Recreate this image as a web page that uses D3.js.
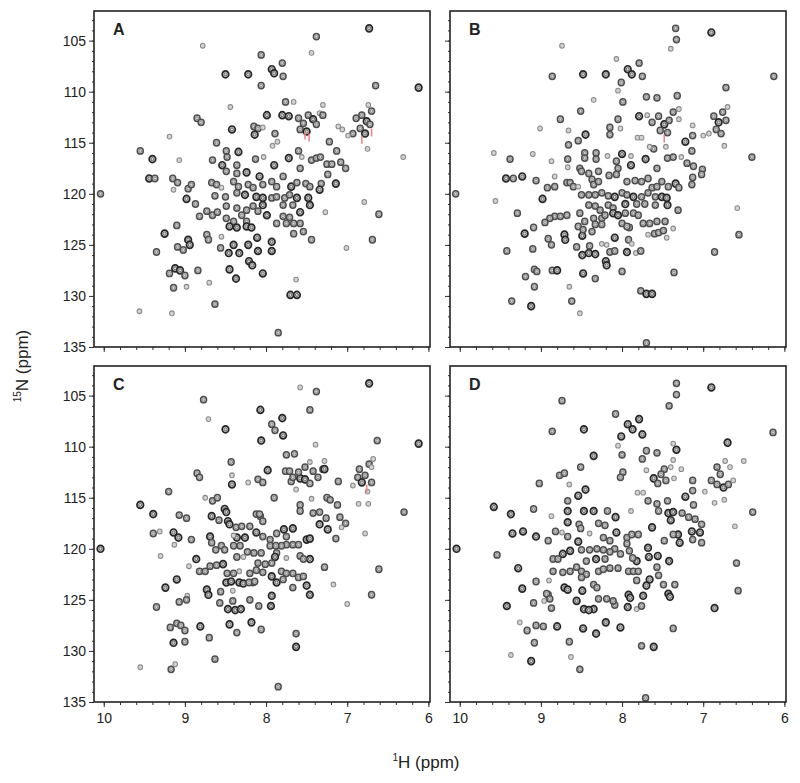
<!DOCTYPE html>
<html>
<head>
<meta charset="utf-8">
<script src="https://cdn.jsdelivr.net/npm/d3@7"></script>
<style>
  body { margin: 0; background: #fff; }
  text { font-family: "Liberation Sans", Arial, sans-serif; fill: #222; }
</style>
</head>
<body>
<svg id="chart" width="800" height="783"></svg>
<script>
// axis ranges (ppm) and tick labels
var hDomain = [10.12, 5.98];
var nDomain = [102.1, 135];
var hTicks = [10, 9, 8, 7, 6];
var nTicks = [105, 110, 115, 120, 125, 130, 135];
var panelNames = ['A', 'B', 'C', 'D'];

// peaks: [1H ppm, 15N ppm, intensity level 1..3]
var peaksA = [
  [6.73,103.8,3],[7.38,104.6,2],[8.78,105.5,1],[7.44,106.2,1],[8.06,106.4,2],[7.80,107.2,2],
  [7.93,107.8,3],[7.90,108.2,3],[7.79,108.5,2],[8.50,108.3,3],[8.22,108.3,3],[8.06,109.4,2],
  [6.65,109.4,2],[6.12,109.6,3],[7.76,111.0,2],[7.66,111.0,1],[8.44,111.5,1],[7.99,112.3,3],
  [7.80,112.3,3],[7.72,112.4,3],[8.85,112.6,2],[8.80,113.0,2],
  [7.60,112.6,2],[7.54,113.1,2],[7.48,112.3,2],[7.42,112.7,3],[7.38,113.2,2],[7.58,113.7,2],
  [7.50,113.9,3],[7.34,112.1,1],[7.30,111.3,1],[7.30,112.3,2],
  [6.89,112.6,2],[6.82,112.3,2],[6.76,112.9,3],[6.70,111.9,2],[6.84,113.6,2],[6.78,114.1,3],
  [6.72,113.2,2],[6.93,114.1,2],[6.74,111.3,1],[6.75,115.6,1],
  [8.42,113.7,3],[8.15,113.4,2],[8.10,113.6,2],[8.04,113.5,1],[8.14,114.2,3],[7.89,114.1,2],
  [7.86,114.9,1],[7.11,113.4,1],[7.06,113.7,1],[6.99,114.3,1],[9.19,114.4,1],[7.22,114.9,2],
  [8.61,115.0,2],[7.92,115.3,1],[9.55,115.8,2],[9.40,116.6,3],[9.07,116.7,1],[8.49,115.8,2],
  [8.34,115.9,3],[8.66,116.7,2],[8.48,116.4,2],[8.13,116.6,2],[8.03,116.4,1],[7.90,117.2,3],
  [7.72,116.5,3],[7.60,115.8,2],[7.56,116.4,1],[7.44,116.7,2],[7.38,116.5,2],[7.33,116.4,2],
  [7.25,117.1,2],[7.19,117.1,2],[7.13,115.8,2],[7.08,116.9,2],[7.02,117.5,2],[7.58,117.5,2],
  [6.31,116.4,1],[9.44,118.5,3],[9.37,118.5,2],[9.15,118.5,2],[9.09,118.9,2],[8.96,119.5,2],
  [8.92,119.1,2],[10.04,120.0,2],[8.98,120.5,3],[9.14,119.6,1],[8.87,121.0,2],[8.82,122.2,2],
  [8.73,121.7,2],[8.66,122.1,2],[8.60,121.8,2],
  [8.54,117.2,3],[8.36,117.2,2],[8.49,117.8,2],[8.36,118.0,2],[8.24,117.9,3],[8.08,118.3,3],
  [8.04,119.1,2],[7.93,118.8,2],[7.87,119.3,2],[7.79,118.3,2],[7.69,119.3,3],[7.62,118.9,2],
  [7.51,119.0,2],[7.46,119.3,2],[7.32,119.0,2],[7.24,118.1,2],[7.14,119.0,3],[7.34,119.6,3],
  [8.67,118.9,2],[8.61,119.1,2],[8.55,119.4,1],[8.40,118.8,2],[8.34,119.3,2],[8.22,119.1,2],
  [8.16,119.4,2],[8.26,120.1,3],[8.63,120.2,2],[8.50,120.3,2],[8.36,119.9,2],[8.12,120.3,3],
  [8.04,120.4,3],[7.93,120.4,2],[7.87,120.3,2],[7.77,120.4,2],[7.71,120.1,2],[7.62,120.4,3],
  [7.48,120.4,3],[7.79,121.1,2],[7.67,121.1,2],[7.46,121.1,3],[8.04,121.1,3],[7.99,122.1,3],
  [8.16,121.2,2],[8.10,121.7,2],[8.49,121.2,2],[8.36,121.4,2],[8.24,121.6,2],[8.30,122.1,2],
  [8.24,122.7,2],[8.49,122.4,2],[8.40,122.7,2],[8.45,123.2,3],[8.36,123.3,3],[8.24,123.2,3],
  [8.18,123.3,3],[7.87,122.9,2],[7.79,122.2,2],[7.71,122.3,2],[7.75,122.9,2],[7.66,122.9,2],
  [7.58,122.9,2],[7.58,121.8,3],[7.27,121.8,1],[7.66,123.9,2],[7.54,123.7,2],[7.44,124.5,2],
  [6.61,122.0,2],[6.79,120.8,1],[6.69,124.5,2],[7.01,125.3,1],
  [9.25,123.9,3],[9.10,123.1,2],[8.73,124.0,2],[8.71,124.5,2],[8.55,124.2,1],[8.96,124.5,3],
  [8.94,125.0,3],[9.09,125.2,2],[9.02,125.5,2],[9.35,125.7,2],[8.56,125.3,2],[8.40,125.0,3],
  [8.22,125.0,3],[8.11,124.3,3],[8.10,125.6,3],[7.93,124.7,3],[7.93,125.6,3],[8.46,125.8,3],
  [8.33,125.8,3],[8.21,126.6,3],[8.17,127.0,3],[8.04,127.8,3],[8.45,127.4,3],[8.37,128.3,3],
  [9.19,127.8,2],[9.12,127.3,3],[9.06,127.5,3],[9.00,128.0,2],[8.84,127.5,2],[9.14,129.2,2],
  [8.98,129.1,1],[8.70,128.7,1],[8.63,130.8,2],[7.70,129.9,3],[7.62,129.9,3],[7.63,128.4,1],
  [9.56,131.5,1],[9.16,131.7,1],[7.85,133.6,2]
];

var peaksB = [
  [7.34,103.8,2],[7.33,104.9,2],[6.90,104.2,3],[7.40,105.8,1],[8.74,105.5,1],[8.07,106.8,1],
  [7.79,107.2,2],[7.93,107.8,3],[7.88,108.3,3],[7.75,108.5,2],[8.86,108.5,2],[8.48,108.3,3],
  [8.20,108.3,3],[8.01,109.1,2],[6.13,108.5,2],[6.72,109.6,2],[8.05,109.9,1],[7.70,110.5,2],
  [7.57,110.6,2],[8.35,110.8,1],[7.99,111.0,2],[7.32,110.4,2],[8.51,111.9,2],[7.79,112.4,3],
  [7.69,112.3,1],[8.76,112.7,2],[9.01,113.6,1],[8.66,113.8,1],[8.45,114.2,3],[8.15,113.5,2],
  [8.15,114.2,2],[8.05,112.7,2],[8.02,113.6,1],
  [7.63,113.0,2],[7.55,112.4,2],[7.48,113.2,3],[7.42,112.8,2],[7.37,112.0,2],[7.53,113.8,2],
  [7.44,114.0,2],[7.30,112.7,1],[7.30,111.7,1],
  [6.87,112.4,2],[6.81,113.0,3],[6.76,112.0,2],[6.72,112.8,2],[6.84,113.7,2],[6.78,114.1,2],
  [6.70,111.5,1],[6.93,114.1,1],[6.74,115.3,1],
  [7.81,114.5,1],[7.76,114.5,1],[7.61,115.6,2],[7.66,115.4,1],[7.46,115.4,1],[7.22,114.9,3],
  [7.13,114.3,2],[7.13,113.3,1],[7.00,114.3,1],[7.14,115.8,2],[8.66,115.2,2],[8.54,114.8,2],
  [9.58,116.0,1],[9.38,116.6,2],[9.10,116.1,1],[8.87,116.8,1],[8.67,116.6,2],[8.67,117.4,1],
  [8.46,116.0,2],[8.46,116.5,2],[8.32,116.0,2],[8.32,116.6,2],[8.18,116.3,1],[8.07,116.8,2],
  [8.00,116.1,3],[7.89,116.3,1],[7.89,117.2,3],[7.71,116.6,3],[7.57,117.5,2],[7.44,116.5,2],
  [7.37,116.4,2],[7.27,116.4,1],[7.20,117.0,2],[7.12,117.3,2],[7.01,117.6,2],[7.02,118.1,2],
  [7.13,118.4,2],[7.14,119.1,2],[6.40,116.4,2],[9.43,118.5,3],[9.34,118.5,2],[9.23,118.3,3],
  [9.06,118.7,2],[8.83,118.3,1],[10.05,120.0,2],[9.56,120.7,1],[8.92,119.4,2],[8.83,119.3,2],
  [8.98,120.5,3],[9.29,121.9,2],[9.20,123.9,3],[9.09,123.3,2],[9.42,125.6,2],[9.10,125.4,2],
  [8.91,124.4,2],[8.87,125.0,2],[8.71,124.0,3],[8.70,124.5,3],[9.19,128.1,2],[9.08,127.4,2],
  [9.05,127.6,2],[9.08,129.1,2],[9.36,130.5,2],[9.12,131.0,3],[8.86,127.5,2],[8.80,127.5,3],
  [8.65,129.1,1],[8.62,130.5,2],[8.52,131.7,1],[8.49,126.0,3],[8.41,125.8,3],[8.33,125.9,3],
  [8.40,125.1,2],[8.56,125.2,2],[8.49,124.1,3],[8.48,127.8,3],[8.33,128.3,2],[8.20,126.6,3],
  [8.19,127.0,3],[8.25,124.9,1],[8.19,125.0,1],[8.15,125.7,2],[8.09,125.6,2],[8.09,124.3,3],
  [8.00,127.6,2],[7.94,125.7,3],[7.92,124.5,2],[7.88,124.9,1],[7.83,125.8,1],[7.77,125.6,2],
  [7.77,129.5,2],[7.70,129.8,3],[7.63,129.8,3],[7.70,134.6,2],[7.91,123.3,2],[7.68,124.0,1],
  [7.60,123.9,2],[7.55,123.8,2],[7.49,123.6,2],[7.37,123.4,1],[7.45,124.3,1],[7.36,127.7,2],
  [6.86,125.7,2],[6.58,121.4,1],[6.56,124.0,2],
  [8.52,117.5,2],[8.50,117.8,2],[8.41,118.0,2],[8.29,117.8,2],[8.16,118.2,2],[8.07,118.1,2],
  [8.05,117.5,2],[8.37,118.6,2],[8.35,119.1,2],[8.29,118.8,2],[7.94,118.8,2],[7.84,118.7,2],
  [7.76,118.8,2],[7.68,118.5,2],[7.63,119.4,2],[7.57,119.3,2],[7.51,118.8,2],[7.43,119.3,2],
  [7.34,119.0,3],[7.30,119.4,2],[8.68,118.9,2],[8.64,118.9,2],[8.60,119.3,2],[8.54,119.3,1],
  [8.50,120.1,2],[8.41,120.1,2],[8.33,120.1,2],[8.25,119.9,2],[8.17,120.2,2],[8.09,120.3,3],
  [8.00,119.9,2],[7.94,120.1,2],[7.86,120.3,3],[7.76,120.3,2],[7.68,119.9,2],[7.59,120.3,2],
  [7.51,120.3,3],[7.45,120.4,3],[7.96,121.0,3],[7.82,121.0,2],[7.72,121.0,2],[7.59,121.1,2],
  [7.44,121.1,3],[7.31,121.6,2],[8.17,121.1,2],[8.11,121.4,2],[8.41,121.1,2],[8.33,121.2,2],
  [8.27,121.6,2],[8.25,122.4,2],[8.25,123.0,2],[8.35,122.4,2],[8.33,123.0,2],[8.52,121.9,2],
  [8.46,122.7,2],[8.83,122.2,2],[8.76,122.2,2],[8.68,122.1,2],[8.95,122.8,2],[8.89,122.4,2],
  [8.21,122.1,2],[8.11,121.9,3],[8.05,122.1,3],[7.96,121.9,2],[7.86,121.9,2],[7.80,122.1,2],
  [7.74,122.9,2],[7.66,122.9,2],[7.57,122.7,2],[7.47,122.7,2],[8.00,122.9,2],[7.94,123.2,2],
  [8.54,123.2,2],[8.48,123.5,2],[8.37,123.7,2]
];

var peaksC = [
  [6.73,103.8,3],[7.38,104.6,2],[7.58,104.2,1],[8.77,105.4,2],[8.71,107.3,1],[8.07,106.4,3],
  [7.46,106.4,2],[7.80,107.2,3],[7.93,107.8,2],[7.89,108.4,2],[7.79,108.9,3],[8.50,108.3,3],
  [8.06,109.4,3],[6.63,109.4,2],[6.12,109.7,3],[7.39,109.8,1],[7.75,110.8,2],[7.65,110.7,2],
  [8.43,111.5,2],[8.85,112.6,2],[8.82,113.0,2],[8.42,112.8,1],[7.98,112.3,3],[7.76,112.4,2],
  [7.71,112.4,2],[8.42,113.7,3],[8.22,113.5,1],[8.10,113.2,2],[8.04,113.5,2],[9.20,114.4,2],
  [8.75,115.0,1],[8.66,115.3,2],[8.60,115.0,2],[9.55,115.7,3],[9.39,116.6,3],[9.07,116.7,2],
  [8.98,117.0,2],[8.67,116.8,3],[8.51,116.1,3],[8.49,116.4,3],[8.58,117.2,2],[8.47,117.3,3],
  [8.45,117.6,3],[8.37,117.9,2],[8.30,117.8,2],[8.20,117.8,2],[8.12,116.6,2],[8.07,116.8,2],
  [7.90,115.0,2],[7.69,113.4,2],[7.58,113.1,3],[7.52,113.2,3],
  [7.67,113.0,2],[7.60,112.5,2],[7.52,112.0,2],[7.46,111.5,1],[7.42,112.4,2],[7.36,113.0,2],
  [7.30,112.2,2],[7.46,113.6,2],[7.63,114.2,1],[7.28,112.2,3],[7.28,111.4,1],
  [6.87,113.0,2],[6.82,113.5,3],[6.78,112.8,2],[6.73,111.7,2],[6.70,112.0,1],[6.68,111.2,1],
  [6.85,112.2,2],[6.75,114.4,1],[6.93,113.8,1],[6.70,113.5,2],[6.86,115.6,1],[6.74,115.6,1],
  [7.11,113.4,2],[7.44,115.1,1],[7.58,115.7,2],[7.58,116.3,2],[7.42,116.5,2],[7.34,116.4,2],
  [7.25,115.0,2],[7.21,115.2,2],[7.12,115.7,2],[7.26,117.0,2],[7.34,117.6,3],[7.24,118.1,3],
  [7.09,116.9,2],[7.02,117.5,2],[7.07,117.9,1],[7.14,119.0,2],[6.78,118.5,1],[6.30,116.4,2],
  [6.61,122.0,2],[6.70,124.5,2],[7.00,125.4,1],[7.17,123.5,1],[7.28,121.8,2],[7.63,128.3,2],
  [7.63,129.6,3],[7.85,133.5,2],[9.39,118.5,2],[9.31,118.3,1],[9.14,118.4,3],[9.08,118.9,3],
  [8.92,119.1,2],[9.13,119.6,1],[9.30,120.7,1],[10.04,120.0,3],[8.95,121.7,1],[8.86,121.0,3],
  [8.82,122.2,2],[8.75,122.2,2],[8.69,121.7,2],[8.61,121.6,2],[8.53,121.5,3],[8.48,122.4,2],
  [8.40,122.4,2],[8.33,122.2,1],[9.10,123.0,3],[9.24,123.8,3],[8.97,124.6,1],[9.07,125.2,2],
  [8.98,125.0,2],[9.35,125.7,2],[8.73,124.0,3],[8.71,124.5,3],[8.56,124.2,2],[8.41,124.1,1],
  [8.49,123.3,3],[8.43,123.2,3],[8.33,123.3,3],[8.28,123.4,3],[8.16,123.3,2],[8.57,125.3,2],
  [8.41,125.1,2],[8.47,125.9,3],[8.38,126.0,3],[8.31,125.9,3],[8.20,125.0,2],[8.09,125.6,2],
  [7.93,124.6,3],[7.94,125.6,3],[8.45,127.4,3],[8.36,128.2,2],[8.18,127.2,3],[8.06,127.9,2],
  [8.81,127.6,3],[8.70,128.7,2],[9.10,127.3,2],[9.05,127.5,2],[9.18,127.7,2],[9.00,128.0,2],
  [9.14,129.2,3],[9.00,129.1,2],[8.63,130.8,2],[9.55,131.6,1],[9.17,131.8,2],[9.12,131.3,1],
  [8.08,116.6,2],[8.04,117.3,2],[8.12,118.4,3],[8.04,118.8,2],[7.95,119.1,2],[7.87,118.5,2],
  [7.78,118.1,3],[7.67,118.0,3],[7.75,118.8,2],[7.50,119.1,3],[7.46,119.0,3],[7.67,119.6,2],
  [7.60,119.6,2],[7.75,119.6,2],[7.81,119.7,2],[7.95,119.7,2],[7.88,119.7,2],[7.87,120.4,2],
  [7.89,120.8,3],[7.75,120.9,1],[7.58,120.7,2],[7.46,121.0,3],[7.54,121.0,2],[8.15,120.4,2],
  [8.06,120.4,2],[8.23,120.3,2],[8.28,120.8,1],[8.40,119.7,2],[8.32,119.7,2],[8.55,119.7,2],
  [8.62,120.1,2],[8.51,120.1,2],[8.36,120.8,2],[8.69,118.8,3],[8.67,119.4,2],[8.36,118.9,3],
  [8.26,118.9,3],[8.40,118.7,1],[8.10,121.4,2],[8.01,121.5,2],[7.93,121.4,2],[8.12,122.1,2],
  [8.20,122.4,2],[8.04,122.3,2],[7.93,122.7,3],[7.81,122.2,2],[7.75,122.4,2],[7.67,122.4,2],
  [7.60,122.8,2],[7.54,122.7,2],[7.87,123.3,3],[7.79,123.0,2],[7.67,123.8,2],[7.50,123.6,3],
  [7.46,124.5,3],[8.21,123.3,2],[8.14,123.2,2]
];

var peaksD = [
  [7.33,103.8,2],[7.33,104.9,2],[6.90,104.2,3],[7.42,106.0,2],[8.74,105.5,2],[8.08,106.8,2],
  [7.79,107.3,3],[7.93,107.8,3],[7.87,108.3,3],[7.75,108.8,3],[8.86,108.5,2],[8.47,108.3,3],
  [8.01,109.0,3],[8.05,109.9,1],[6.14,108.6,2],[6.70,109.6,3],[7.70,110.4,2],[7.57,110.6,2],
  [7.33,110.3,3],[8.00,110.8,2],[8.35,110.9,3],[8.51,112.0,2],[8.77,112.8,2],[8.71,112.6,2],
  [9.02,113.6,2],[8.65,113.7,1],[8.45,114.2,3],[8.54,114.8,3],[8.67,115.3,2],[7.99,112.5,2],
  [8.02,113.0,2],[7.75,111.2,2],[7.70,112.3,1],[7.81,114.5,1],[7.74,114.5,1],
  [7.61,113.1,3],[7.56,113.6,2],[7.46,113.3,2],[7.36,113.1,1],[7.37,111.3,1],[7.27,112.2,1],
  [7.37,109.7,1],[7.48,112.2,2],[7.52,112.7,2],[7.40,112.0,1],
  [6.83,112.0,2],[6.79,112.7,2],[6.90,113.3,2],[6.83,113.7,2],[6.75,114.0,3],[6.69,113.7,2],
  [6.67,112.0,1],[6.73,111.4,1],[6.63,113.3,1],[6.74,115.2,1],[6.86,115.5,1],[6.50,111.4,1],
  [6.98,114.4,1],
  [7.13,113.3,2],[7.13,114.3,2],[7.22,114.9,3],[7.12,115.7,2],[7.44,115.3,2],[7.55,116.3,2],
  [7.57,115.6,2],[7.68,115.3,2],[7.89,116.3,1],[7.43,116.5,3],[7.37,116.4,3],[7.40,117.2,3],
  [7.26,116.5,2],[7.18,116.9,2],[7.10,117.1,2],[7.02,117.6,2],[7.14,118.3,3],[7.04,118.4,3],
  [7.13,119.1,2],[7.02,119.4,2],[7.31,118.6,3],[7.29,119.4,3],[7.63,117.9,3],[7.48,119.2,2],
  [7.37,118.6,2],[6.39,116.4,2],[6.61,117.8,1],[6.59,121.4,2],[6.57,124.1,2],[6.86,125.8,3],
  [7.37,127.8,2],[7.76,129.5,2],[7.61,129.6,3],[7.71,134.6,2],[7.42,121.2,3],[7.35,123.5,2],
  [7.43,124.4,3],[7.41,124.7,3],[7.49,123.5,2],[7.55,122.6,2],[7.66,123.0,3],[7.70,123.6,3],
  [7.57,121.8,2],[7.67,120.8,3],[7.56,120.7,3],[7.68,119.9,3],[7.82,121.2,3],[7.92,122.2,2],
  [7.86,122.2,2],[7.80,122.2,2],[7.92,124.5,3],[7.90,124.8,3],[7.93,125.7,3],[7.82,125.9,1],
  [7.76,125.6,2],[7.82,123.1,2],[7.74,124.6,3],[8.09,125.5,2],[8.11,125.1,2],[8.19,124.9,2],
  [8.29,124.9,2],[8.35,125.9,3],[8.47,125.9,3],[8.41,126.0,3],[8.32,128.3,3],[8.20,127.2,3],
  [8.02,127.7,3],[8.48,127.8,3],[8.56,125.1,3],[8.49,124.1,3],[8.65,129.1,2],[8.63,130.6,1],
  [8.52,131.8,2],[8.80,127.6,3],[9.06,127.5,2],[8.97,127.6,2],[9.17,128.0,2],[9.08,129.2,2],
  [9.12,131.0,3],[9.37,130.4,1],[9.26,127.2,1],[9.42,125.6,3],[9.23,123.9,3],[9.09,125.3,2],
  [8.96,125.1,1],[8.91,124.5,2],[8.87,125.8,2],[9.06,123.2,2],[8.90,123.1,1],[9.28,121.9,3],
  [9.54,120.6,2],[10.04,120.0,3],[9.58,115.9,3],[9.37,116.6,3],[9.09,116.1,2],[8.87,116.8,1],
  [9.35,118.5,3],[9.22,118.3,3],[9.06,118.8,3],[8.91,119.2,2],[8.82,118.3,2],[8.74,118.4,1],
  [8.67,116.3,3],[8.67,117.4,3],[8.67,118.8,2],[8.54,119.3,3],[8.53,117.6,2],[8.51,118.0,2],
  [8.47,116.3,3],[8.35,116.3,3],[8.40,118.5,1],[8.29,117.5,2],[8.21,117.7,2],[8.18,116.3,2],
  [8.08,116.9,3],[8.23,118.9,2],[8.15,119.2,2],[8.07,118.4,3],[7.94,118.9,2],[7.88,118.6,2],
  [7.80,118.6,2],[7.94,119.5,2],[7.91,120.2,2],[7.87,120.9,2],[8.02,120.5,2],[8.09,120.0,2],
  [8.15,120.3,2],[8.23,120.1,2],[8.31,120.0,2],[8.40,120.1,2],[8.50,120.1,2],[8.64,120.2,3],
  [8.73,120.5,3],[8.85,121.0,2],[8.79,121.0,2],[8.73,122.3,2],[8.64,122.2,2],[8.56,121.8,2],
  [8.50,122.2,2],[8.44,122.5,2],[8.50,122.8,2],[8.44,121.2,2],[8.32,121.0,3],[8.21,121.0,2],
  [8.29,122.2,2],[8.23,122.0,2],[8.15,121.9,2],[8.05,121.9,2],[8.35,123.5,2],[8.31,123.8,2],
  [8.71,123.8,3],[8.67,124.0,3],[8.85,122.2,2],[8.93,124.4,2],[8.89,124.9,2]
];

// small red (negative) contours
var redA = [[7.47,114.4],[7.52,114.2],[6.82,114.6],[6.70,113.9]];
var redB = [[7.48,114.5]];
var redC = [[6.76,114.0]];
var redD = [];

var allPeaks = [peaksA, peaksB, peaksC, peaksD];
var allRed = [redA, redB, redC, redD];

var size = 336;
var origins = [[94, 11], [450, 11], [94, 366], [450, 366]];

// contour rings per intensity level: radius, colour, stroke width
var ringStyle = {
  1: [{r: 2.3, c: '#8a8a8a', w: 1.1}],
  2: [{r: 3.0, c: '#4d4d4d', w: 1.5}, {r: 1.4, c: '#8c8c8c', w: 1}],
  3: [{r: 3.3, c: '#262626', w: 1.7}, {r: 1.5, c: '#6a6a6a', w: 1}]
};

var svg = d3.select('#chart');

function drawPanel(i) {
  var ox = origins[i][0], oy = origins[i][1];
  var x = d3.scaleLinear().domain(hDomain).range([0, size]);
  var y = d3.scaleLinear().domain(nDomain).range([0, size]);

  var g = svg.append('g').attr('transform', 'translate(' + ox + ',' + oy + ')');

  g.append('clipPath').attr('id', 'clip' + i)
    .append('rect').attr('width', size).attr('height', size);

  var plot = g.append('g').attr('clip-path', 'url(#clip' + i + ')');

  // peaks drawn as concentric contour ellipses
  var peak = plot.selectAll('g.peak')
    .data(allPeaks[i])
    .enter().append('g')
    .attr('class', 'peak')
    .attr('transform', function (d) { return 'translate(' + x(d[0]) + ',' + y(d[1]) + ')'; });

  peak.selectAll('ellipse')
    .data(function (d) { return ringStyle[d[2]]; })
    .enter().append('ellipse')
    .attr('rx', function (r) { return r.r; })
    .attr('ry', function (r) { return r.r * 1.05; })
    .attr('fill', function (r, k) { return k === 0 ? '#d4d4d4' : 'none'; })
    .attr('stroke', function (r) { return r.c; })
    .attr('stroke-width', function (r) { return r.w; });

  plot.selectAll('line.neg')
    .data(allRed[i])
    .enter().append('line')
    .attr('class', 'neg')
    .attr('x1', function (d) { return x(d[0]); })
    .attr('x2', function (d) { return x(d[0]); })
    .attr('y1', function (d) { return y(d[1]) - 3; })
    .attr('y2', function (d) { return y(d[1]) + 5; })
    .attr('stroke', '#e88')
    .attr('stroke-width', 1.6);

  var showX = i >= 2, showY = i % 2 === 0;

  // minor ticks
  g.append('g').attr('transform', 'translate(0,' + size + ')')
    .call(d3.axisBottom(x).tickValues(d3.range(6, 10.01, 0.2)).tickSize(3).tickFormat(''))
    .call(function (s) { s.select('.domain').remove(); });
  g.append('g')
    .call(d3.axisLeft(y).tickValues(d3.range(103, 135.1, 1)).tickSize(2).tickFormat(''))
    .call(function (s) { s.select('.domain').remove(); });

  // major ticks with labels
  var xa = g.append('g').attr('transform', 'translate(0,' + size + ')')
    .call(d3.axisBottom(x).tickValues(hTicks).tickSize(5).tickPadding(6)
      .tickFormat(showX ? d3.format('d') : ''));
  xa.select('.domain').remove();
  var ya = g.append('g')
    .call(d3.axisLeft(y).tickValues(nTicks).tickSize(5).tickPadding(3)
      .tickFormat(showY ? d3.format('d') : ''));
  ya.select('.domain').remove();

  g.selectAll('.tick line').attr('stroke', '#333');
  g.selectAll('.tick text').attr('font-size', 14).attr('fill', '#333')
    .attr('font-family', '"Liberation Sans", Arial, sans-serif');

  g.append('rect').attr('width', size).attr('height', size)
    .attr('fill', 'none').attr('stroke', '#222').attr('stroke-width', 1.6);

  g.append('text').attr('x', 19).attr('y', 24)
    .attr('font-size', 16).attr('font-weight', 'bold').attr('fill', '#111')
    .text(panelNames[i]);
}

for (var i = 0; i < 4; i++) drawPanel(i);

// axis titles
var xt = svg.append('text').attr('x', 426).attr('y', 768)
  .attr('text-anchor', 'middle').attr('font-size', 17).attr('fill', '#333');
xt.append('tspan').attr('font-size', 10).attr('dy', -7).text('1');
xt.append('tspan').attr('dy', 7).text('H (ppm)');

var yt = svg.append('text').attr('transform', 'translate(28,366) rotate(-90)')
  .attr('text-anchor', 'middle').attr('font-size', 17).attr('fill', '#333');
yt.append('tspan').attr('font-size', 10).attr('dy', -7).text('15');
yt.append('tspan').attr('dy', 7).text('N (ppm)');
</script>
</body>
</html>
